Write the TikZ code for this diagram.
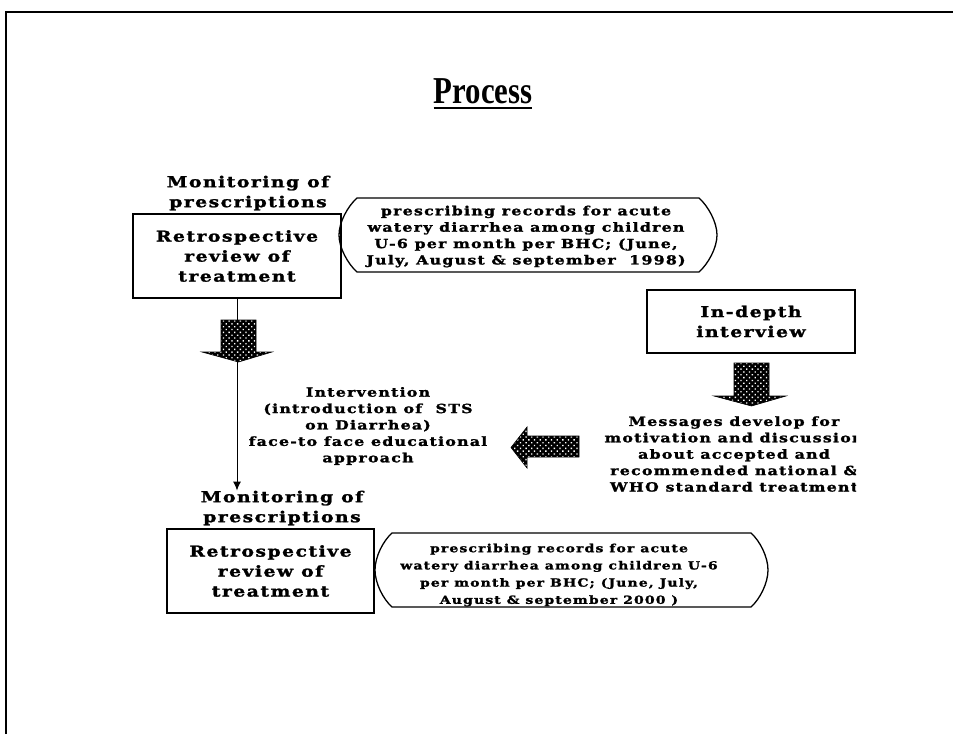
\documentclass[tikz,border=0pt]{standalone}
\usepackage{fontspec}
\usetikzlibrary{arrows.meta,patterns.meta}
\newfontfamily\slidefont[FakeStretch=1.25,LetterSpace=10,FakeBold=1.6]{DejaVu Serif}
\newfontfamily\titlefont[FakeStretch=0.81]{Liberation Serif}

% white dots on a black ground for the block arrows
\tikzdeclarepattern{
  name=whitedots,
  type=uncolored,
  bottom left={(-1pt,-1pt)},
  top right={(5pt,5pt)},
  tile size={(4pt,4pt)},
  tile transformation={rotate=45},
  code={\pgfpathcircle{\pgfqpoint{2pt}{2pt}}{0.95pt}\pgfusepath{fill}}
}

\tikzset{
  big/.style={font={\slidefont\bfseries\fontsize{15}{20}\selectfont}, align=center, inner sep=0pt},
  small/.style={font={\slidefont\bfseries\fontsize{12.6}{16.4}\selectfont}, align=center, inner sep=0pt},
  smaller/.style={font={\slidefont\bfseries\fontsize{11.2}{17.2}\selectfont}, align=center, inner sep=0pt},
  box/.style={draw, line width=1.6pt, inner sep=0pt},
  callout/.style={draw, line width=1.3pt},
  blockarrow/.style={preaction={fill=black}, pattern=whitedots, pattern color=white, draw=black, line width=0.6pt},
  flow/.style={line width=1pt, -{Latex[length=9pt,width=8pt]}},
  frame/.style={line width=1.3pt}
}

\begin{document}
\begin{tikzpicture}[x=1pt,y=-1pt]
\useasboundingbox (0,0) rectangle (953,734);
\fill[white] (0,0) rectangle (953,734);

% slide frame
\draw[frame] (6,734) -- (6,12) -- (953,12);

% title
\node[font={\titlefont\bfseries\fontsize{38}{40}\selectfont}, inner sep=0pt, anchor=base] (title) at (483,103) {Process};
\draw[line width=1.6pt] ([yshift=-5pt]title.base west) -- ([yshift=-5pt]title.base east);

% first monitoring round
\node[big] (mon1) at (248,193) {Monitoring of\\prescriptions};
\node[box, big, minimum width=208pt, minimum height=84pt] (box1) at (237,256) {Retrospective\\review of\\treatment};
\draw[callout] (357,198) -- (699,198) .. controls (708,206) and (717,222) .. (717,235)
  .. controls (717,248) and (708,264) .. (699,272) -- (357,272)
  .. controls (348,264) and (339,248) .. (339,235)
  .. controls (339,222) and (348,206) .. (357,198) -- cycle;
\node[small] (rec1) at (526,236.5) {prescribing records for acute\\watery diarrhea among children\\U-6 per month per BHC; (June,\\July, August \& september~~1998)};

% second monitoring round
\node[big] (mon2) at (282,508) {Monitoring of\\prescriptions};
\node[box, big, minimum width=207pt, minimum height=84pt] (box2) at (270.5,571) {Retrospective\\review of\\treatment};
\draw[callout] (392,533) -- (751,533) .. controls (760,541) and (768,557) .. (768,570)
  .. controls (768,583) and (760,599) .. (751,607) -- (392,607)
  .. controls (383,599) and (375,583) .. (375,570)
  .. controls (375,557) and (383,541) .. (392,533) -- cycle;
\node[smaller] (rec2) at (559,575) {prescribing records for acute\\watery diarrhea among children U-6\\per month per BHC; (June, July,\\August \& september 2000 )};

% flow from the first review down to the second
\draw[flow] (box1.south) -- (box1.south |- mon2.north);
\path[blockarrow] (221,320) -- (256,320) -- (256,352) -- (272,352) -- (238.5,362) -- (202,352) -- (221,352) -- cycle;

% intervention
\node[small] (interv) at (368,426) {Intervention\\(introduction of~~STS\\on Diarrhea)\\face-to face educational\\approach};

% in-depth interview branch
\begin{scope}
\clip (0,0) rectangle (856,734);
\node[box, big, minimum width=208pt, minimum height=63pt] (indepth) at (751,321.5) {In-depth\\interview};
\node[small] (msg) at (734,454) {Messages develop for\\motivation and discussion\\about accepted and\\recommended national \&\\WHO standard treatment};
\end{scope}
\path[blockarrow] (734,363) -- (769,363) -- (769,396) -- (786,396) -- (751.5,406) -- (714,396) -- (734,396) -- cycle;
\path[blockarrow] (579,436) -- (579,457) -- (527,457) -- (527,468) -- (511,447.5) -- (527,427) -- (527,436) -- cycle;
\end{tikzpicture}
\end{document}
